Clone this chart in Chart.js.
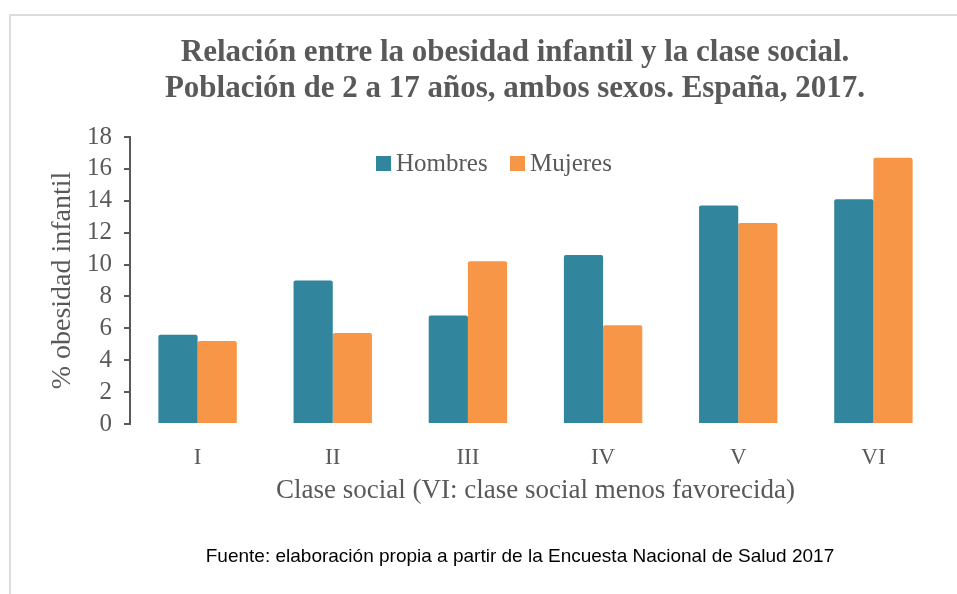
<!DOCTYPE html>
<html>
<head>
<meta charset="utf-8">
<script src="https://cdn.jsdelivr.net/npm/chart.js@4/dist/chart.umd.min.js"></script>
<style>
  html, body { margin: 0; padding: 0; background: #fff; }
  #wrap { position: relative; width: 957px; height: 594px; }
  #marco { position: absolute; left: 9px; top: 14px; right: 0; bottom: 0;
           border-top: 2px solid #dcdcdc; border-left: 2px solid #dcdcdc; pointer-events: none; }
</style>
</head>
<body>
<div id="wrap">
  <canvas id="obesidadChart" width="957" height="594"></canvas>
  <div id="marco"></div>
</div>
<script>
const clases = ['I', 'II', 'III', 'IV', 'V', 'VI'];
const hombres = [5.6, 9.0, 6.8, 10.6, 13.7, 14.1];
const mujeres = [5.2, 5.7, 10.2, 6.2, 12.6, 16.7];
const titulo = ['Relación entre la obesidad infantil y la clase social.',
                'Población de 2 a 17 años, ambos sexos. España, 2017.'];
const fuente = 'Fuente: elaboración propia a partir de la Encuesta Nacional de Salud 2017';

const gris = '#595959';
const serif = '"Liberation Serif", "DejaVu Serif", serif';

// titulo, leyenda y fuente dibujados a mano para fijar su posicion
const textosPlugin = {
    id: 'textos',
    afterDraw(chart) {
        const ctx = chart.ctx;
        ctx.save();
        ctx.fillStyle = gris;
        ctx.textAlign = 'center';
        ctx.textBaseline = 'middle';
        ctx.font = 'bold 31px ' + serif;
        ctx.fillText(titulo[0], 515, 53);
        ctx.fillText(titulo[1], 515, 89);

        // leyenda
        ctx.font = '25px ' + serif;
        ctx.textAlign = 'left';
        const xs = [376, 510];
        chart.data.datasets.forEach((ds, i) => {
            ctx.fillStyle = ds.backgroundColor;
            ctx.fillRect(xs[i], 156, 15, 15);
            ctx.fillStyle = gris;
            ctx.fillText(ds.label, xs[i] + 20, 164);
        });

        ctx.fillStyle = '#000';
        ctx.textAlign = 'center';
        ctx.font = '19px "Liberation Sans", Arial, sans-serif';
        ctx.fillText(fuente, 520, 557);
        ctx.restore();
    }
};

const ctx = document.getElementById('obesidadChart').getContext('2d');
new Chart(ctx, {
    type: 'bar',
    data: {
        labels: clases,
        datasets: [{
            label: 'Hombres',
            data: hombres,
            backgroundColor: '#31859C',
            borderRadius: 2,
            barPercentage: 1,
            categoryPercentage: 0.58
        }, {
            label: 'Mujeres',
            data: mujeres,
            backgroundColor: '#F79646',
            borderRadius: 2,
            barPercentage: 1,
            categoryPercentage: 0.58
        }]
    },
    options: {
        responsive: false,
        animation: false,
        layout: { padding: { left: 0, top: 137, right: 16, bottom: 82 } },
        plugins: {
            legend: { display: false },
            title: { display: false },
            tooltip: { enabled: false }
        },
        scales: {
            x: {
                grid: { display: false, drawTicks: false },
                border: { display: false },
                ticks: { color: gris, padding: 20, font: { family: serif, size: 23 } },
                title: {
                    display: true,
                    text: 'Clase social (VI: clase social menos favorecida)',
                    color: gris,
                    font: { family: serif, size: 27, lineHeight: 1.2 },
                    padding: { top: 0, bottom: 5 }
                },
                afterFit: s => { s.height = 88; }
            },
            y: {
                min: 0,
                max: 18,
                ticks: { stepSize: 2, autoSkip: false, color: gris, padding: 12, font: { family: serif, size: 25 } },
                grid: { drawOnChartArea: false, drawTicks: true, tickLength: 6, color: gris, lineWidth: 2 },
                border: { display: true, color: gris, width: 2 },
                title: {
                    display: true,
                    text: '% obesidad infantil',
                    color: gris,
                    font: { family: serif, size: 28, lineHeight: 1.2 },
                    padding: { top: 46, bottom: 0 }
                },
                afterFit: s => { s.width = 130; }
            }
        }
    },
    plugins: [textosPlugin]
});
</script>
</body>
</html>
